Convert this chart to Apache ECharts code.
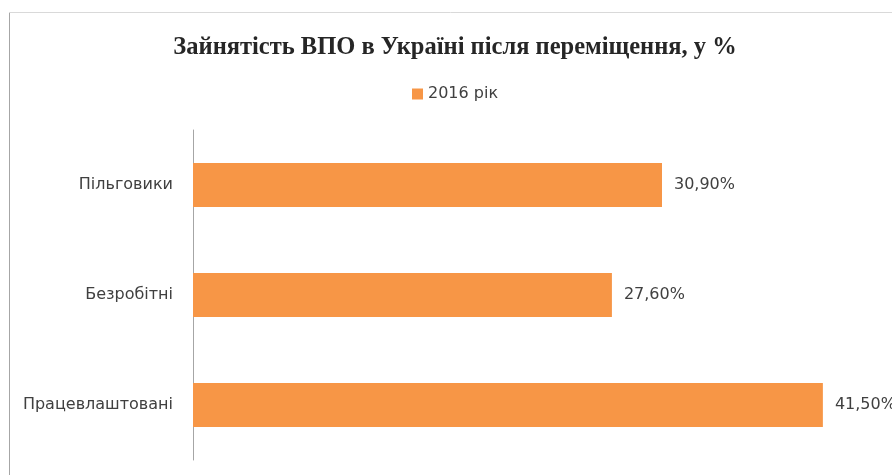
<!DOCTYPE html>
<html>
<head>
<meta charset="utf-8">
<script src="https://cdn.jsdelivr.net/npm/echarts@6/dist/echarts.min.js"></script>
<style>
  html, body { margin: 0; padding: 0; background: #fff; }
  #chart { width: 892px; height: 475px; }
</style>
</head>
<body>
<div id="chart"></div>
<script>
// дані
const categories = ['Працевлаштовані', 'Безробітні', 'Пільговики'];
const values2016 = [41.5, 27.6, 30.9];
const seriesName = '2016 рік';

const textColor = '#404040';
const barColor = '#F79646';
const labelFont = 'DejaVu Sans';

const chart = echarts.init(document.getElementById('chart'));

chart.setOption({
  animation: false,
  title: {
    text: 'Зайнятість ВПО в Україні після переміщення, у %',
    left: 450,
    textAlign: 'center',
    top: 30,
    textStyle: {
      fontFamily: 'Liberation Serif',
      fontWeight: 'bold',
      fontSize: 24.5,
      color: '#262626'
    }
  },
  legend: {
    data: [seriesName],
    left: 407,
    top: 81,
    itemWidth: 11,
    itemHeight: 11,
    icon: 'rect',
    textStyle: { fontFamily: labelFont, fontSize: 16, color: textColor }
  },
  // рамка області діаграми (ліва та верхня межі)
  graphic: [
    { type: 'line', shape: { x1: 9.5, y1: 12, x2: 9.5, y2: 475 }, style: { stroke: '#a6a6a6', lineWidth: 1 }, silent: true },
    { type: 'line', shape: { x1: 9, y1: 12.5, x2: 892, y2: 12.5 }, style: { stroke: '#d9d9d9', lineWidth: 1 }, silent: true }
  ],
  grid: { left: 193, right: 16, top: 130, bottom: 15, containLabel: false },
  xAxis: {
    type: 'value',
    min: 0,
    max: 45,
    show: false
  },
  yAxis: {
    type: 'category',
    data: categories,
    axisLine: { show: true, lineStyle: { color: '#a6a6a6', width: 1 } },
    axisTick: { show: false },
    axisLabel: {
      margin: 20,
      fontFamily: labelFont,
      fontSize: 16,
      color: textColor
    }
  },
  series: [{
    name: seriesName,
    type: 'bar',
    data: values2016,
    barWidth: '40%',
    itemStyle: { color: barColor },
    label: {
      show: true,
      position: 'right',
      distance: 12,
      fontFamily: labelFont,
      fontSize: 16,
      color: textColor,
      formatter: (p) => p.value.toFixed(2).replace('.', ',') + '%'
    }
  }]
});
</script>
</body>
</html>
